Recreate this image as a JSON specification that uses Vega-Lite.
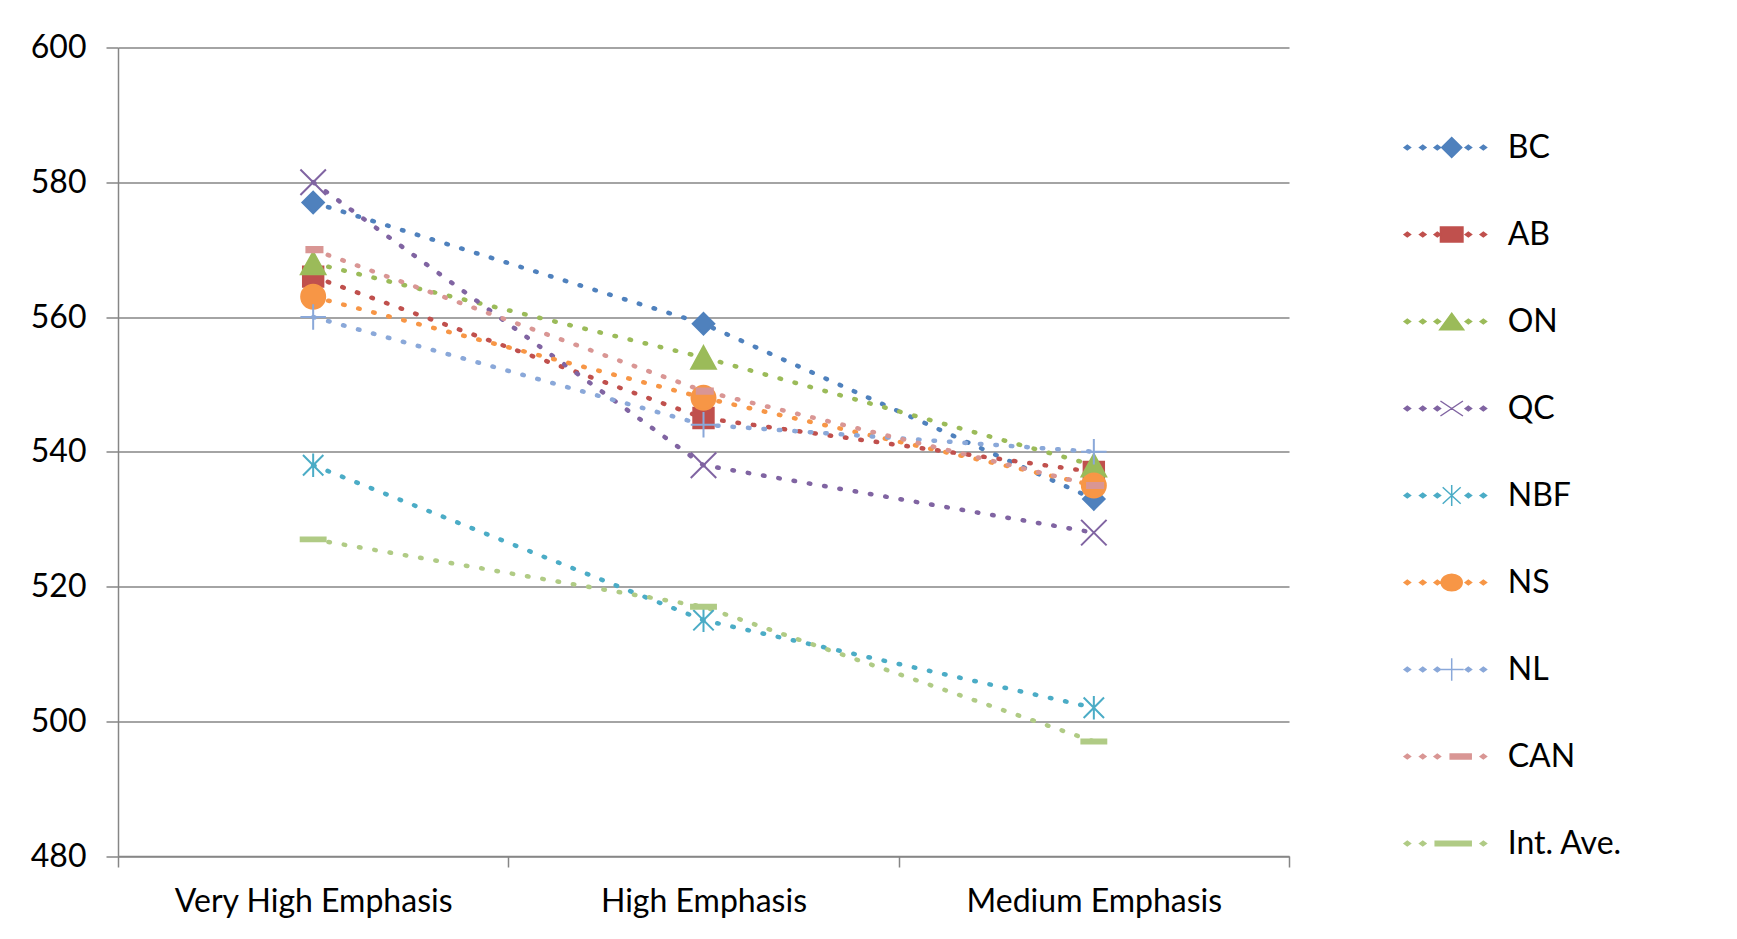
{
  "$schema": "https://vega.github.io/schema/vega-lite/v6.json",
  "autosize": {"type": "none"},
  "padding": {"left": 118, "top": 47.5, "right": 448, "bottom": 83},
  "width": 1171,
  "height": 808.5,
  "background": "white",
  "config": {
    "view": {"stroke": null},
    "axis": {
      "labelFont": "Lato",
      "labelFontSize": 32,
      "labelColor": "#000000",
      "labelLimit": 0,
      "domainColor": "#868686",
      "tickColor": "#868686",
      "gridColor": "#868686",
      "domainWidth": 1.5,
      "gridWidth": 1.5,
      "tickWidth": 1.5,
      "title": null
    },
    "legend": {
      "labelFont": "Lato",
      "labelFontSize": 32,
      "labelColor": "#000000",
      "labelLimit": 0
    }
  },
  "data": {
    "values": [
      {"series": "BC", "level": "Very High Emphasis", "score": 577},
      {"series": "BC", "level": "High Emphasis", "score": 559},
      {"series": "BC", "level": "Medium Emphasis", "score": 533},
      {"series": "AB", "level": "Very High Emphasis", "score": 566},
      {"series": "AB", "level": "High Emphasis", "score": 545},
      {"series": "AB", "level": "Medium Emphasis", "score": 537},
      {"series": "ON", "level": "Very High Emphasis", "score": 568},
      {"series": "ON", "level": "High Emphasis", "score": 554},
      {"series": "ON", "level": "Medium Emphasis", "score": 538},
      {"series": "QC", "level": "Very High Emphasis", "score": 580},
      {"series": "QC", "level": "High Emphasis", "score": 538},
      {"series": "QC", "level": "Medium Emphasis", "score": 528},
      {"series": "NBF", "level": "Very High Emphasis", "score": 538},
      {"series": "NBF", "level": "High Emphasis", "score": 515},
      {"series": "NBF", "level": "Medium Emphasis", "score": 502},
      {"series": "NS", "level": "Very High Emphasis", "score": 563},
      {"series": "NS", "level": "High Emphasis", "score": 548},
      {"series": "NS", "level": "Medium Emphasis", "score": 535},
      {"series": "NL", "level": "Very High Emphasis", "score": 560},
      {"series": "NL", "level": "High Emphasis", "score": 544},
      {"series": "NL", "level": "Medium Emphasis", "score": 540},
      {"series": "CAN", "level": "Very High Emphasis", "score": 570},
      {"series": "CAN", "level": "High Emphasis", "score": 549},
      {"series": "CAN", "level": "Medium Emphasis", "score": 535},
      {"series": "Int. Ave.", "level": "Very High Emphasis", "score": 527},
      {"series": "Int. Ave.", "level": "High Emphasis", "score": 517},
      {"series": "Int. Ave.", "level": "Medium Emphasis", "score": 497}
    ]
  },
  "encoding": {
    "x": {
      "field": "level",
      "type": "nominal",
      "sort": ["Very High Emphasis", "High Emphasis", "Medium Emphasis"],
      "scale": {"type": "band", "paddingInner": 0, "paddingOuter": 0},
      "axis": {"tickBand": "extent", "grid": false, "tickSize": 11, "labelPadding": 19.5, "labelAngle": 0}
    },
    "y": {
      "field": "score",
      "type": "quantitative",
      "scale": {"domain": [480, 600], "nice": false, "zero": false},
      "axis": {"values": [480, 500, 520, 540, 560, 580, 600], "grid": true, "tickSize": 12, "labelPadding": 20}
    }
  },
  "resolve": {
    "scale": {"color": "independent", "fill": "independent", "stroke": "independent", "shape": "independent"}
  },
  "layer": [
    {
      "mark": {"type": "line", "strokeWidth": 4.5, "strokeDash": [1.5, 14], "strokeCap": "round"},
      "encoding": {
        "color": {
          "field": "series",
          "type": "nominal",
          "scale": {
            "domain": ["BC", "AB", "ON", "QC", "NBF", "NS", "NL", "CAN", "Int. Ave."],
            "range": ["#4F81BD", "#C0504D", "#9BBB59", "#8064A2", "#4BACC6", "#F79646", "#8AA8D9", "#D99694", "#B0CB85"]
          },
          "legend": null
        }
      }
    },
    {
      "mark": {"type": "point", "filled": true, "size": 900, "strokeWidth": 2, "opacity": 1},
      "encoding": {
        "shape": {
          "field": "series",
          "type": "nominal",
          "scale": {
            "domain": ["BC", "AB", "ON", "QC", "NBF", "NS", "NL", "CAN", "Int. Ave."],
            "range": [
              "M0,-0.72L0.72,0L0,0.72L-0.72,0Z",
              "M-0.68,-0.68L0.68,-0.68L0.68,0.68L-0.68,0.68Z",
              "M0,-0.75L0.82,0.75L-0.82,0.75Z",
              "M-0.85,-0.85L0.85,0.85M-0.85,0.85L0.85,-0.85",
              "M-0.68,-0.68L0.68,0.68M-0.68,0.68L0.68,-0.68M0,-0.78L0,0.78",
              "M-0.8,0A0.8,0.8 0 1,0 0.8,0A0.8,0.8 0 1,0 -0.8,0Z",
              "M-0.85,0L0.85,0M0,-0.85L0,0.85",
              "M-0.45,-0.17L0.62,-0.17L0.62,0.17L-0.45,0.17Z",
              "M-0.83,-0.13L0.83,-0.13L0.83,0.13L-0.83,0.13Z"
            ]
          },
          "legend": null
        },
        "fill": {
          "field": "series",
          "type": "nominal",
          "scale": {
            "domain": ["BC", "AB", "ON", "QC", "NBF", "NS", "NL", "CAN", "Int. Ave."],
            "range": ["#4F81BD", "#C0504D", "#9BBB59", "#8064A2", "#4BACC6", "#F79646", "#8AA8D9", "#D99694", "#B0CB85"]
          },
          "legend": null
        },
        "stroke": {
          "field": "series",
          "type": "nominal",
          "scale": {
            "domain": ["BC", "AB", "ON", "QC", "NBF", "NS", "NL", "CAN", "Int. Ave."],
            "range": ["#4F81BD", "#C0504D", "#9BBB59", "#8064A2", "#4BACC6", "#F79646", "#8AA8D9", "#D99694", "#B0CB85"]
          },
          "legend": null
        }
      }
    },
    {
      "transform": [{"filter": "datum.score < 0"}],
      "mark": {"type": "point", "filled": true, "size": 900, "strokeWidth": 1.5, "opacity": 1},
      "encoding": {
        "shape": {
          "field": "series",
          "type": "nominal",
          "scale": {
            "domain": ["BC", "AB", "ON", "QC", "NBF", "NS", "NL", "CAN", "Int. Ave."],
            "range": [
              "M0,-0.67L0.67,0L0,0.67L-0.67,0Z M-3.17,0L-2.96,-0.15L-2.75,0L-2.96,0.15Z M-2.14,0L-1.93,-0.15L-1.72,0L-1.93,0.15Z M-1.17,0L-0.96,-0.15L-0.75,0L-0.96,0.15Z M0.9,0L1.11,-0.15L1.32,0L1.11,0.15Z M1.9,0L2.11,-0.15L2.32,0L2.11,0.15Z",
              "M-0.75,-0.5L0.75,-0.5L0.75,0.5L-0.75,0.5Z M-3.17,0L-2.96,-0.15L-2.75,0L-2.96,0.15Z M-2.14,0L-1.93,-0.15L-1.72,0L-1.93,0.15Z M-1.17,0L-0.96,-0.15L-0.75,0L-0.96,0.15Z M0.9,0L1.11,-0.15L1.32,0L1.11,0.15Z M1.9,0L2.11,-0.15L2.32,0L2.11,0.15Z",
              "M0,-0.55L0.8,0.55L-0.8,0.55Z M-3.17,0L-2.96,-0.15L-2.75,0L-2.96,0.15Z M-2.14,0L-1.93,-0.15L-1.72,0L-1.93,0.15Z M-1.17,0L-0.96,-0.15L-0.75,0L-0.96,0.15Z M0.9,0L1.11,-0.15L1.32,0L1.11,0.15Z M1.9,0L2.11,-0.15L2.32,0L2.11,0.15Z",
              "M-0.75,-0.5L0.75,0.5M-0.75,0.5L0.75,-0.5 M-3.17,0L-2.96,-0.15L-2.75,0L-2.96,0.15Z M-2.14,0L-1.93,-0.15L-1.72,0L-1.93,0.15Z M-1.17,0L-0.96,-0.15L-0.75,0L-0.96,0.15Z M0.9,0L1.11,-0.15L1.32,0L1.11,0.15Z M1.9,0L2.11,-0.15L2.32,0L2.11,0.15Z",
              "M-0.6,-0.55L0.6,0.55M-0.6,0.55L0.6,-0.55M0,-0.7L0,0.7 M-3.17,0L-2.96,-0.15L-2.75,0L-2.96,0.15Z M-2.14,0L-1.93,-0.15L-1.72,0L-1.93,0.15Z M-1.17,0L-0.96,-0.15L-0.75,0L-0.96,0.15Z M0.9,0L1.11,-0.15L1.32,0L1.11,0.15Z M1.9,0L2.11,-0.15L2.32,0L2.11,0.15Z",
              "M-0.7,0A0.7,0.55 0 1,0 0.7,0A0.7,0.55 0 1,0 -0.7,0Z M-3.17,0L-2.96,-0.15L-2.75,0L-2.96,0.15Z M-2.14,0L-1.93,-0.15L-1.72,0L-1.93,0.15Z M-1.17,0L-0.96,-0.15L-0.75,0L-0.96,0.15Z M0.9,0L1.11,-0.15L1.32,0L1.11,0.15Z M1.9,0L2.11,-0.15L2.32,0L2.11,0.15Z",
              "M-0.8,0L0.8,0M0,-0.75L0,0.75 M-3.17,0L-2.96,-0.15L-2.75,0L-2.96,0.15Z M-2.14,0L-1.93,-0.15L-1.72,0L-1.93,0.15Z M-1.17,0L-0.96,-0.15L-0.75,0L-0.96,0.15Z M0.9,0L1.11,-0.15L1.32,0L1.11,0.15Z M1.9,0L2.11,-0.15L2.32,0L2.11,0.15Z",
              "M-0.1,-0.17L1.3,-0.17L1.3,0.17L-0.1,0.17Z M-3.17,0L-2.96,-0.15L-2.75,0L-2.96,0.15Z M-2.14,0L-1.93,-0.15L-1.72,0L-1.93,0.15Z M-1.17,0L-0.96,-0.15L-0.75,0L-0.96,0.15Z M1.9,0L2.11,-0.15L2.32,0L2.11,0.15Z",
              "M-1.1,-0.15L1.3,-0.15L1.3,0.15L-1.1,0.15Z M-3.17,0L-2.96,-0.15L-2.75,0L-2.96,0.15Z M-2.14,0L-1.93,-0.15L-1.72,0L-1.93,0.15Z M1.9,0L2.11,-0.15L2.32,0L2.11,0.15Z"
            ]
          },
          "legend": {
            "title": null,
            "orient": "none",
            "legendX": 1317.7,
            "legendY": 84,
            "padding": 0,
            "rowPadding": 55,
            "symbolSize": 900,
            "symbolStrokeWidth": 1.5,
            "labelOffset": 40
          }
        },
        "fill": {
          "field": "series",
          "type": "nominal",
          "scale": {
            "domain": ["BC", "AB", "ON", "QC", "NBF", "NS", "NL", "CAN", "Int. Ave."],
            "range": ["#4F81BD", "#C0504D", "#9BBB59", "#8064A2", "#4BACC6", "#F79646", "#8AA8D9", "#D99694", "#B0CB85"]
          },
          "legend": {
            "title": null,
            "orient": "none",
            "legendX": 1317.7,
            "legendY": 84,
            "padding": 0,
            "rowPadding": 55,
            "symbolSize": 900,
            "symbolStrokeWidth": 1.5,
            "labelOffset": 40
          }
        },
        "stroke": {
          "field": "series",
          "type": "nominal",
          "scale": {
            "domain": ["BC", "AB", "ON", "QC", "NBF", "NS", "NL", "CAN", "Int. Ave."],
            "range": ["#4F81BD", "#C0504D", "#9BBB59", "#8064A2", "#4BACC6", "#F79646", "#8AA8D9", "#D99694", "#B0CB85"]
          },
          "legend": {
            "title": null,
            "orient": "none",
            "legendX": 1317.7,
            "legendY": 84,
            "padding": 0,
            "rowPadding": 55,
            "symbolSize": 900,
            "symbolStrokeWidth": 1.5,
            "labelOffset": 40
          }
        }
      }
    }
  ]
}
